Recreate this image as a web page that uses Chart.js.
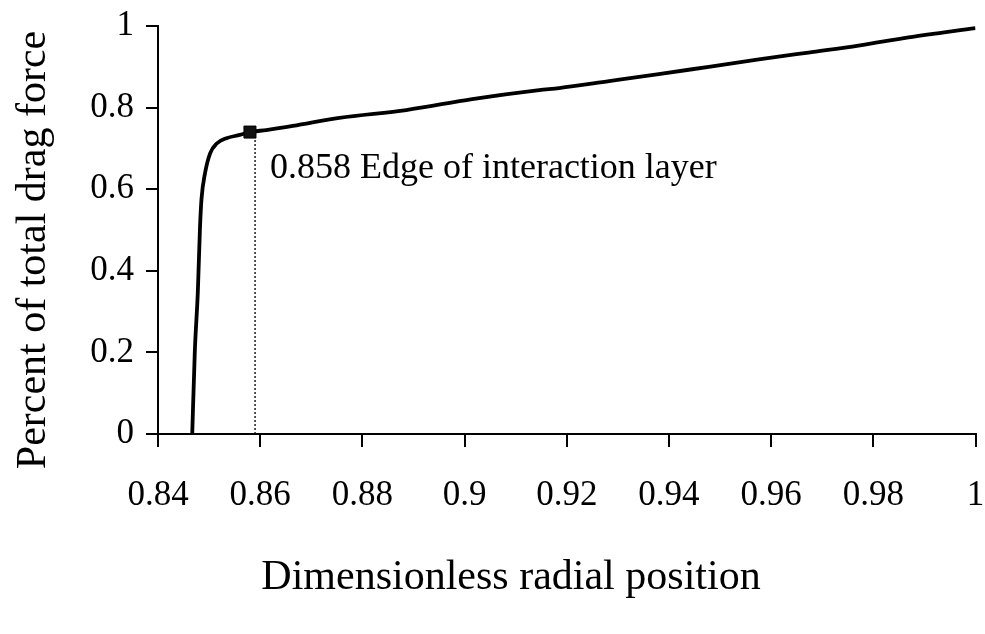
<!DOCTYPE html>
<html>
<head>
<meta charset="utf-8">
<title>Drag force vs radial position</title>
<script src="https://cdn.jsdelivr.net/npm/chart.js@4.4.1/dist/chart.umd.min.js"></script>
<style>
  html, body { margin: 0; padding: 0; background: #fff; }
  #wrap { width: 985px; height: 634px; }
</style>
</head>
<body>
<div id="wrap"><canvas id="chart" width="985" height="634"></canvas></div>
<script>
'use strict';

/* ── Data ── */
const radialPos = [0.8467, 0.8472, 0.8478, 0.8482, 0.8485, 0.8492, 0.8502, 0.8515, 0.8534, 0.8560,
                   0.858, 0.8612, 0.8664, 0.8755, 0.8886, 0.9015, 0.9146, 0.9185, 0.9283, 0.9380,
                   0.9478, 0.9576, 0.9673, 0.9771, 0.9869, 1.0];
const dragFrac  = [0, 0.20, 0.35, 0.50, 0.574, 0.639, 0.688, 0.712, 0.725, 0.733,
                   0.740, 0.745, 0.755, 0.775, 0.794, 0.821, 0.843, 0.848, 0.865, 0.882,
                   0.900, 0.918, 0.935, 0.952, 0.972, 0.995];

const edgeX     = 0.858;   // edge of interaction layer
const edgeY     = 0.740;
const edgeLineX = 0.859;
const edgeLineTop = 0.725;

const xTicks = [0.84, 0.86, 0.88, 0.90, 0.92, 0.94, 0.96, 0.98, 1];
const yTicks = [0, 0.2, 0.4, 0.6, 0.8, 1];

const xTitle = 'Dimensionless radial position';
const yTitle = 'Percent of total drag force';
const edgeLabel = '0.858 Edge of interaction layer';

const SERIF = "'Liberation Serif', 'Times New Roman', serif";

const fmt = v => String(Number(v.toFixed(2)));

/* ── Titles and annotation text ── */
const textPlugin = {
  id: 'textPlugin',
  afterDraw(chart) {
    const { ctx, scales: { x, y } } = chart;
    ctx.save();
    ctx.fillStyle = '#000';

    // annotation next to the marker
    ctx.font = `36px ${SERIF}`;
    ctx.textAlign = 'left';
    ctx.textBaseline = 'alphabetic';
    ctx.fillText(edgeLabel, x.getPixelForValue(edgeX) + 20, y.getPixelForValue(edgeY) + 46);

    // axis titles
    ctx.font = `42px ${SERIF}`;
    ctx.textAlign = 'center';
    ctx.textBaseline = 'middle';
    ctx.fillText(xTitle, 511, 578);

    ctx.translate(34, 250);
    ctx.rotate(-Math.PI / 2);
    ctx.fillText(yTitle, 0, 0);
    ctx.restore();
  }
};

const axisStyle = {
  grid: { display: true, drawOnChartArea: false, drawTicks: true, color: '#000', lineWidth: 2 },
  border: { display: true, color: '#000', width: 2 },
};

new Chart(document.getElementById('chart'), {
  type: 'scatter',
  data: {
    datasets: [
      {
        label: 'drag',
        data: radialPos.map((r, i) => ({ x: r, y: dragFrac[i] })),
        showLine: true,
        borderColor: '#000',
        borderWidth: 3.8,
        pointRadius: 0,
        cubicInterpolationMode: 'monotone',
        order: 2,
      },
      {
        label: 'edge line',
        data: [{ x: edgeLineX, y: 0 }, { x: edgeLineX, y: edgeLineTop }],
        showLine: true,
        borderColor: '#111',
        borderWidth: 1.4,
        borderDash: [2, 2],
        pointRadius: 0,
        order: 3,
      },
      {
        label: 'edge',
        data: [{ x: edgeX, y: edgeY }],
        pointStyle: 'rect',
        pointRadius: 8.5,
        backgroundColor: '#111',
        borderColor: '#000',
        borderWidth: 1,
        order: 1,
      },
    ],
  },
  options: {
    responsive: false,
    animation: false,
    events: [],
    layout: { padding: { top: 26, right: 0, bottom: 0, left: 0 } },
    plugins: { legend: { display: false }, tooltip: { enabled: false } },
    scales: {
      x: {
        type: 'linear',
        min: 0.84,
        max: 1,
        ...axisStyle,
        grid: { ...axisStyle.grid, tickLength: 13 },
        afterBuildTicks: s => { s.ticks = xTicks.map(v => ({ value: v })); },
        ticks: {
          color: '#000',
          font: { family: SERIF, size: 35, lineHeight: 1 },
          padding: 31,
          maxRotation: 0,
          autoSkip: false,
          callback: v => fmt(v),
        },
        afterFit: s => { s.height = 200; s.paddingLeft = 0; s.paddingRight = 8; },
      },
      y: {
        type: 'linear',
        min: 0,
        max: 1,
        ...axisStyle,
        grid: { ...axisStyle.grid, tickLength: 12 },
        afterBuildTicks: s => { s.ticks = yTicks.map(v => ({ value: v })); },
        ticks: {
          color: '#000',
          font: { family: SERIF, size: 35, lineHeight: 1 },
          padding: 12,
          callback: v => fmt(v),
        },
        afterFit: s => { s.width = 158; s.paddingTop = 0; s.paddingBottom = 0; },
      },
    },
  },
  plugins: [textPlugin],
});
</script>
</body>
</html>
